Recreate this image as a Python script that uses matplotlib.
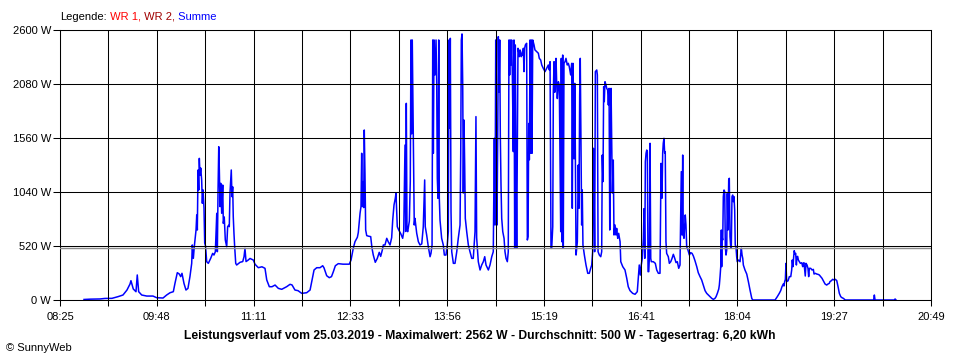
import matplotlib

matplotlib.use("Agg")
import matplotlib.pyplot as plt
import numpy as np

plt.rcParams["font.family"] = ["Liberation Sans", "DejaVu Sans"]

date_label = "25.03.2019"
max_w = 2562
average_w = 500
yield_kwh = "6,20"

time_labels = ["08:25", "09:48", "11:11", "12:33", "13:56",
               "15:19", "16:41", "18:04", "19:27", "20:49"]
y_ticks = [0, 520, 1040, 1560, 2080, 2600]

legend_labels = ["WR 1,", "WR 2,", "Summe"]
legend_colors = ["#ff0000", "#a00000", "#0000ff"]

# minutes since midnight / power of "Summe" in W
sample_minutes = [
    525.5, 530.6, 539.2, 543.4, 549.4, 554.5, 558.8, 562.2, 564.8, 565.6,
    567.6, 569.9, 571.0, 572.2, 574.8, 579.1, 584.4, 587.6, 593.0, 596.1,
    599.0, 601.8, 603.2, 605.2, 606.9, 608.1, 609.2, 610.9, 612.6, 614.3,
    616.0, 617.5, 618.0, 618.9, 619.7, 620.3, 621.2, 621.8, 622.3, 622.9,
    623.5, 624.0, 624.6, 625.2, 626.0, 626.6, 627.2, 628.0, 628.6, 629.3,
    630.3, 631.7, 633.7, 635.4, 636.5, 637.7, 638.9, 639.4, 640.0, 640.6,
    641.1, 641.7, 642.3, 643.1, 644.0, 644.5, 645.3, 646.2, 647.4, 648.2,
    649.1, 649.6, 650.2, 650.8, 651.3, 651.9, 652.5, 653.0, 653.6, 654.2,
    655.1, 655.9, 658.8, 661.1, 662.2, 663.0, 663.9, 665.8, 667.3,
    670.1, 671.6, 674.4, 677.5, 680.1, 681.6, 683.8, 686.1, 688.7, 691.5,
    694.4, 698.6, 701.5, 703.2, 705.7, 708.3, 711.5, 715.7, 718.6, 720.0,
    722.0, 724.3, 727.1, 729.4, 730.5, 732.8, 735.0, 736.9, 738.5, 740.2,
    742.7, 746.7, 752.1, 753.6, 755.5, 757.0, 759.0, 759.8, 761.3, 762.1,
    762.7, 763.2, 763.8, 764.4, 764.9, 765.5, 766.1, 767.0, 768.4, 770.4,
    771.5, 772.6, 774.3, 776.0, 777.7, 778.9, 780.3, 781.2, 782.6, 784.1,
    785.4, 786.9, 788.3, 789.2, 790.3, 791.4, 792.0, 792.6, 793.1, 794.3,
    796.0, 797.7, 798.6, 799.7, 800.3, 800.8, 801.4, 802.0, 803.4, 804.2,
    804.8, 805.4, 805.9, 806.5, 807.1, 807.6, 808.2, 809.7, 811.1, 812.5,
    814.0, 815.3, 816.5, 817.0, 818.2, 819.6, 821.1, 821.9, 822.8, 823.4,
    823.9, 824.5, 825.3, 826.2, 826.8, 827.3, 827.9, 828.5, 829.0, 829.6,
    831.0, 832.4, 833.3, 834.7, 835.8, 836.7, 837.3, 837.9, 838.4, 839.0,
    839.6, 841.0, 842.4, 843.9, 845.2, 846.7, 847.3, 847.8, 848.4, 849.0,
    849.5, 850.1, 850.7, 851.2, 852.4, 853.8, 855.2, 856.7, 858.0, 859.5,
    860.3, 860.9, 862.3, 863.8, 865.2, 866.6, 867.8, 868.9, 870.9, 872.3,
    873.8, 875.1, 876.0, 876.6, 877.2, 877.7, 878.3, 878.9, 879.4, 880.0,
    880.6, 881.1, 881.7, 882.3, 883.2, 884.3, 885.1, 886.0, 887.1, 887.9,
    888.5, 889.1, 889.6, 890.2, 890.8, 891.4, 892.2, 892.8, 893.4, 893.9,
    894.5, 895.1, 895.6, 896.2, 896.8, 897.3, 897.9, 898.5, 899.0, 899.6,
    900.2, 900.8, 901.3, 901.9, 902.5, 903.6, 904.2, 904.8, 905.4, 905.9,
    906.5, 907.1, 907.6, 908.2, 908.8, 909.9, 910.7, 912.2, 913.6, 914.4,
    915.6, 916.5, 917.8, 919.3, 920.7, 922.1, 923.0, 923.6, 924.4, 925.0,
    925.9, 926.4, 927.0, 927.6, 928.1, 928.7, 929.3, 929.8, 930.7, 931.5,
    932.1, 932.7, 933.2, 933.8, 934.4, 934.9, 935.5, 936.4, 937.2, 938.3,
    939.2, 940.0, 941.2, 942.1, 942.6, 943.2, 944.1, 944.7, 945.2, 945.8,
    946.9, 947.7, 948.3, 948.9, 949.4, 950.0, 950.6, 951.1, 951.7, 952.9,
    954.3, 955.8, 957.1, 958.3, 959.2, 960.0, 960.6, 961.1, 961.7, 962.3,
    963.5, 964.0, 964.6, 965.7, 966.9, 967.7, 968.2, 968.8, 969.4, 969.9,
    970.5, 971.4, 972.0, 972.8, 973.4, 974.0, 974.6, 975.1, 975.7, 976.3,
    976.8, 977.6, 978.2, 979.1, 979.9, 980.5, 981.4, 982.2, 983.4, 984.0,
    985.7, 987.6, 989.1, 990.4, 991.9, 994.2, 996.2, 998.1, 999.0, 999.8,
    1000.7, 1001.5, 1002.4, 1003.3, 1003.9, 1004.5, 1005.0, 1005.6, 1006.2, 1006.7,
    1007.3, 1007.9, 1008.4, 1009.0, 1009.6, 1010.1, 1011.8, 1013.5, 1014.7, 1016.1,
    1017.5, 1018.4, 1019.2, 1019.8, 1020.3, 1020.9, 1021.5, 1022.0, 1022.6, 1023.2,
    1024.6, 1025.5, 1026.7, 1027.8, 1028.9, 1030.1, 1031.2, 1032.3, 1033.5, 1034.6,
    1035.7, 1036.3, 1036.9, 1037.4, 1038.0, 1038.6, 1039.1, 1039.7, 1040.3, 1041.4,
    1042.6, 1043.7, 1044.9, 1046.0, 1047.4, 1048.9, 1050.2, 1051.7, 1053.1, 1054.5,
    1056.0, 1057.4, 1058.8, 1060.2, 1061.7, 1063.1, 1064.5, 1065.4, 1066.5, 1067.7,
    1068.2, 1068.8, 1069.4, 1069.9, 1070.2, 1070.5, 1071.1, 1071.6, 1072.2, 1072.8,
    1073.3, 1073.9, 1074.5, 1075.0, 1075.6, 1076.2, 1076.7, 1077.3, 1077.9, 1078.4,
    1079.0, 1079.6, 1080.1, 1080.7, 1081.3, 1081.8, 1082.4, 1083.0, 1083.5, 1084.7,
    1085.9, 1086.5, 1087.0, 1087.6, 1088.2, 1088.7, 1090.1, 1091.6, 1093.0, 1094.4,
    1095.9, 1096.7, 1115.8, 1117.7, 1119.4, 1120.6, 1121.7, 1122.8, 1123.4, 1124.0,
    1124.6, 1125.1, 1125.7, 1126.9, 1128.0, 1129.2, 1130.0, 1130.5, 1131.1, 1131.7,
    1132.2, 1132.8, 1133.4, 1134.0, 1134.5, 1135.1, 1135.7, 1136.5, 1137.4, 1138.6,
    1139.4, 1139.9, 1140.5, 1141.1, 1141.6, 1142.2, 1143.1, 1143.9, 1144.5, 1145.1,
    1146.2, 1147.4, 1148.5, 1149.1, 1150.2, 1151.4, 1152.5, 1153.6, 1154.8, 1155.9,
    1157.0, 1158.5, 1159.9, 1161.0, 1162.1, 1162.7, 1163.9, 1165.0, 1166.2, 1167.3,
    1168.5, 1169.6, 1170.7, 1171.9, 1173.0, 1174.1, 1175.8, 1200.0, 1200.6, 1201.2,
    1217.8, 1218.3, 1219.1,
]
summe_watts = [
    5, 8, 10, 15, 16, 32, 48, 96, 154, 186,
    106, 80, 241, 80, 48, 38, 38, 22, 19, 48,
    70, 80, 160, 263, 250, 225, 257, 160, 96, 112,
    225, 353, 530, 401, 513, 578, 674, 819, 674, 1252,
    1059, 1364, 1200, 1271, 1156, 931, 1060, 886, 549, 520,
    369, 353, 401, 449, 433, 465, 835, 465, 1059, 1476,
    1252, 899, 1124, 835, 1107, 738, 800, 578, 513, 706,
    720, 706, 1027, 1156, 1252, 995, 1090, 802, 642, 513,
    353, 337, 363, 370, 417, 497, 370, 385, 400,
    385, 344, 311, 320, 305, 193, 128, 128, 144, 112,
    103, 128, 151, 145, 96, 90, 64, 70, 96, 177,
    289, 311, 311, 330, 310, 234, 215, 225, 273, 330,
    350, 345, 345, 385, 498, 562, 604, 650, 835, 899,
    1413, 900, 1140, 890, 1637, 1220, 674, 620, 615, 610,
    498, 433, 363, 400, 459, 420, 480, 530, 530, 594,
    560, 530, 600, 770, 915, 979, 1027, 860, 706, 675,
    640, 594, 660, 1492, 660, 1894, 680, 658, 760, 1140,
    2504, 1600, 2504, 1878, 1250, 722, 786, 642, 562, 530,
    540, 706, 1156, 706, 626, 513, 417, 450, 530, 2504,
    1413, 2504, 2167, 2504, 2070, 1172, 979, 2504, 979, 770,
    594, 530, 433, 433, 530, 660, 2504, 1653, 2520, 850,
    465, 353, 353, 465, 594, 722, 1413, 2504, 2562, 2070,
    1030, 1733, 1280, 786, 658, 530, 465, 401, 401, 658,
    1766, 600, 369, 289, 337, 369, 417, 337, 289, 337,
    417, 465, 1557, 722, 2504, 1000, 722, 1590, 2536, 2000,
    2504, 1590, 1108, 786, 658, 594, 465, 401, 369, 465,
    2504, 2167, 2504, 2263, 2504, 2167, 1429, 2504, 498, 2456,
    1300, 498, 1400, 2424, 2390, 2343, 2408, 2392, 2343, 2376,
    2360, 2424, 2199, 2424, 2456, 2472, 578, 610, 1700, 1350,
    2504, 1413, 2504, 1413, 2504, 2456, 2408, 2392, 2376, 2327,
    2311, 2263, 2231, 2199, 2231, 2263, 2215, 2295, 498, 498,
    706, 2006, 2295, 2000, 2135, 2327, 2070, 1940, 2102, 2070,
    1364, 658, 2327, 560, 2359, 498, 2279, 2295, 2327, 2263,
    2279, 2247, 2167, 2279, 883, 2279, 1360, 2086, 1420, 433,
    560, 1300, 883, 1974, 2327, 1550, 722, 1060, 530, 433,
    337, 257, 257, 305, 337, 465, 1461, 1170, 465, 2199,
    2215, 2167, 465, 433, 417, 465, 1396, 1140, 2054, 1910,
    2102, 2070, 2038, 2022, 1878, 2038, 674, 1480, 2038, 1480,
    1030, 1348, 626, 722, 626, 690, 594, 642, 562, 369,
    321, 289, 209, 128, 90, 64, 55, 80, 209, 337,
    240, 337, 401, 594, 880, 401, 1332, 1413, 1444, 1428,
    273, 273, 401, 1509, 401, 369, 369, 353, 289, 257,
    257, 1316, 980, 1413, 1509, 1557, 1413, 1428, 562, 449,
    417, 353, 369, 401, 440, 401, 360, 369, 305, 337,
    1236, 626, 1396, 626, 594, 722, 819, 722, 513, 481,
    433, 456, 449, 424, 378, 321, 263, 225, 193, 144,
    90, 64, 48, 32, 16, 6, 16, 32, 64, 106,
    144, 225, 321, 674, 321, 610, 578, 995, 1059, 1043,
    513, 433, 481, 1027, 674, 1156, 1172, 610, 513, 498,
    995, 1011, 947, 995, 867, 530, 513, 417, 369, 385,
    369, 449, 498, 433, 401, 337, 289, 250, 177, 96,
    16, 0, 0, 32, 64, 90, 128, 154, 135, 177,
    199, 353, 177, 185, 225, 225, 289, 385, 321, 417,
    475, 440, 449, 337, 417, 420, 385, 369, 353, 359,
    321, 353, 359, 289, 231, 353, 337, 305, 225, 305,
    305, 289, 295, 250, 257, 250, 247, 241, 225, 209,
    186, 154, 144, 154, 160, 177, 186, 199, 193, 199,
    186, 128, 64, 32, 22, 16, 0, 0, 48, 0,
    0, 10, 0,
]
assert len(sample_minutes) == len(summe_watts)

label_minutes = [int(t[:2]) * 60 + int(t[3:]) for t in time_labels]
major_ticks = np.linspace(label_minutes[0], label_minutes[-1], len(time_labels))
minor_ticks = (major_ticks[:-1] + major_ticks[1:]) / 2

fig = plt.figure(figsize=(9.6, 3.6), dpi=100, facecolor="white")
ax = fig.add_axes((0.0625, 1 / 6, 0.9073, 0.75))

ax.plot(sample_minutes, summe_watts, color="#0000ff", linewidth=1.1, zorder=2)
ax.axhline(average_w, color="#8c8c8c", linewidth=1.0, zorder=3)

ax.set_xlim(major_ticks[0], major_ticks[-1])
ax.set_ylim(y_ticks[0], y_ticks[-1])
ax.set_xticks(major_ticks, time_labels)
ax.set_xticks(minor_ticks, minor=True)
ax.set_yticks(y_ticks, [f"{v} W" for v in y_ticks])
ax.set_axisbelow(False)
ax.grid(True, which="both", color="black", linewidth=0.75)
ax.tick_params(axis="x", which="both", length=4.5, width=0.75, pad=4, labelsize=8)
ax.tick_params(axis="y", length=5, width=0.75, pad=1.5, labelsize=8)
for spine in ax.spines.values():
    spine.set_linewidth(0.75)

previous = fig.text(0.0625, 0.953, "Legende:", fontsize=8, va="center")
for label, color in zip(legend_labels, legend_colors):
    previous = ax.annotate(" " + label, xy=(1, 0), xycoords=previous,
                           va="bottom", ha="left", color=color, fontsize=8)

title = (f"Leistungsverlauf vom {date_label} - Maximalwert: {max_w} W - "
         f"Durchschnitt: {average_w} W - Tagesertrag: {yield_kwh} kWh")
fig.text(0.4995, 0.0667, title, ha="center", va="center",
         fontsize=8.7, fontweight="bold")
fig.text(6 / 960, 1 - 348 / 360, "© SunnyWeb", fontsize=8, va="center")

fig.savefig("out.png", dpi=100, facecolor="white")
